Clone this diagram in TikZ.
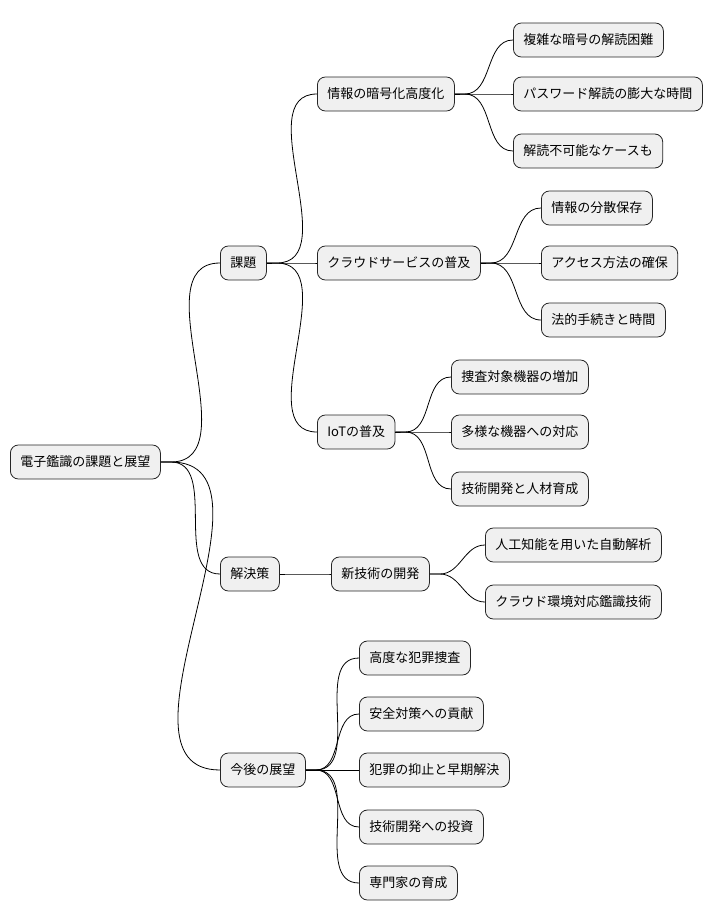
\documentclass[tikz,border=0pt]{standalone}
\usepackage{fontspec}
\newfontfamily\cjk{Noto Sans CJK JP}
\tikzset{
  topic/.style={draw=black!85, fill=black!6, rounded corners=8pt, line width=0.8pt,
    minimum height=34pt, inner xsep=10pt, anchor=west,
    font=\cjk\fontsize{13}{15}\selectfont},
  branch/.style={line width=0.8pt, black}
}
\begin{document}
\begin{tikzpicture}[x=1pt,y=-1pt]
  \useasboundingbox (0,0) rectangle (726,921);
  % root and first level
  \node[topic] (root) at (10,462) {電子鑑識の課題と展望};
  \node[topic] (issue) at (220,263) {課題};
  \node[topic] (solve) at (220,574) {解決策};
  \node[topic] (future) at (220,770) {今後の展望};
  % issues
  \node[topic] (crypt) at (317,94) {情報の暗号化高度化};
  \node[topic] (cloud) at (317,263) {クラウドサービスの普及};
  \node[topic] (iot) at (317,432) {IoTの普及};
  \node[topic] (crypt1) at (513,40) {複雑な暗号の解読困難};
  \node[topic] (crypt2) at (513,94) {パスワード解読の膨大な時間};
  \node[topic] (crypt3) at (513,151) {解読不可能なケースも};
  \node[topic] (cloud1) at (541,208) {情報の分散保存};
  \node[topic] (cloud2) at (541,263) {アクセス方法の確保};
  \node[topic] (cloud3) at (541,320) {法的手続きと時間};
  \node[topic] (iot1) at (451,377) {捜査対象機器の増加};
  \node[topic] (iot2) at (451,432) {多様な機器への対応};
  \node[topic] (iot3) at (451,489) {技術開発と人材育成};
  % solutions
  \node[topic] (tech) at (331,574) {新技術の開発};
  \node[topic] (tech1) at (485,545) {人工知能を用いた自動解析};
  \node[topic] (tech2) at (485,602) {クラウド環境対応鑑識技術};
  % outlook
  \node[topic] (fut1) at (359,658) {高度な犯罪捜査};
  \node[topic] (fut2) at (359,714) {安全対策への貢献};
  \node[topic] (fut3) at (359,770) {犯罪の抑止と早期解決};
  \node[topic] (fut4) at (359,827) {技術開発への投資};
  \node[topic] (fut5) at (359,883) {専門家の育成};
  % connectors
  \foreach \p/\c in {root/issue,root/solve,root/future,
      issue/crypt,issue/cloud,issue/iot,
      crypt/crypt1,crypt/crypt2,crypt/crypt3,
      cloud/cloud1,cloud/cloud2,cloud/cloud3,
      iot/iot1,iot/iot2,iot/iot3,
      solve/tech,tech/tech1,tech/tech2,
      future/fut1,future/fut2,future/fut3,future/fut4,future/fut5}
    \draw[branch] (\p.east) -- ++(10,0) to[out=0,in=180] (\c.west);
\end{tikzpicture}
\end{document}
